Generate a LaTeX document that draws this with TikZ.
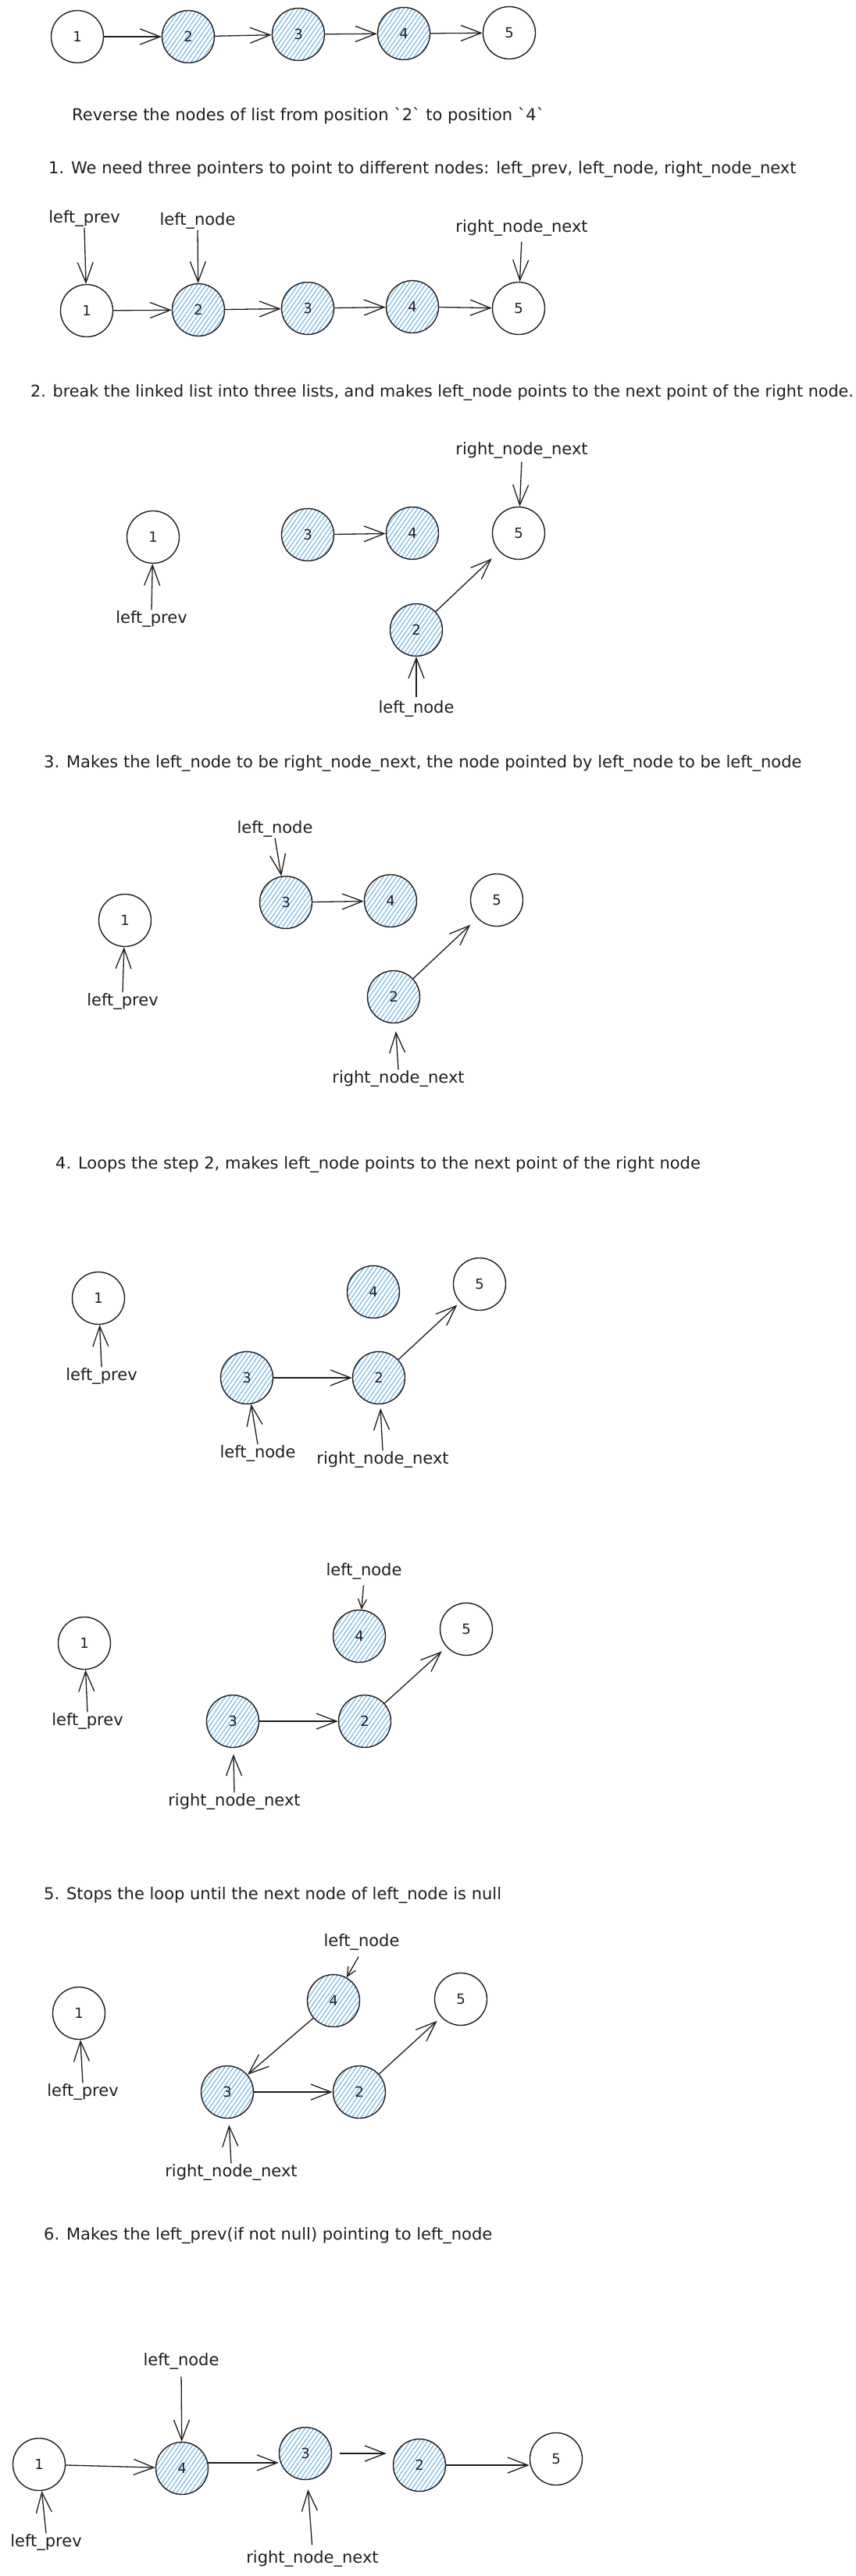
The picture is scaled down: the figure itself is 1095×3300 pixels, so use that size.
\documentclass[tikz,border=0pt]{standalone}
\usepackage{fontspec}
\setmainfont{DejaVu Sans}
\usetikzlibrary{arrows.meta,patterns.meta}
\definecolor{hatch}{RGB}{110,180,240}
\definecolor{ink}{RGB}{30,30,30}
\begin{document}
\begin{tikzpicture}[x=1pt,y=-1pt,
  lst/.style={circle, draw=ink, line width=1.4pt, minimum size=67pt, inner sep=0pt, font=\fontsize{18}{20}\selectfont, text=ink},
  blu/.style={lst, pattern={Lines[angle=55,distance=4.6pt,line width=1.1pt]}, pattern color=hatch},
  wht/.style={lst, fill=white},
  lbl/.style={font=\fontsize{21}{25}\selectfont, inner sep=1pt, text=ink},
  captxt/.style={font=\fontsize{21}{25}\selectfont, anchor=west, inner sep=0pt, text=ink},
  arr/.style={draw=ink, line width=1.3pt, -{Straight Barb[length=26pt,width=20pt]}},
  sarr/.style={draw=ink, line width=1.3pt, -{Straight Barb[length=12pt,width=11pt]}},
]
\fill[white] (0,0) rectangle (1095,3300);
\useasboundingbox (0,0) rectangle (1095,3300);

% ---- initial list
\node[wht] (n01) at (99,47) {1};
\node[blu] (n02) at (241,47) {2};
\node[blu] (n03) at (382,44) {3};
\node[blu] (n04) at (517,43) {4};
\node[wht] (n05) at (652,42) {5};
\draw[arr] (n01) -- (n02);
\draw[arr] (n02) -- (n03);
\draw[arr] (n03) -- (n04);
\draw[arr] (n04) -- (n05);

\node[captxt] (t0) at (92,148) {Reverse the nodes of list from position \textasciigrave2\textasciigrave\ to position \textasciigrave4\textasciigrave};

% ---- step 1
\node[captxt] (t1) at (62,217) {1. We need three pointers to point to different nodes: left\_prev, left\_node, right\_node\_next};
\node[lbl] (lp1) at (108,280) {left\_prev};
\node[lbl] (ln1) at (253,283) {left\_node};
\node[lbl] (rn1) at (668,292) {right\_node\_next};
\node[wht] (a1) at (111,398) {1};
\node[blu] (a2) at (254,397) {2};
\node[blu] (a3) at (394,395) {3};
\node[blu] (a4) at (528,393) {4};
\node[wht] (a5) at (664,395) {5};
\draw[arr] (lp1.south) -- (a1);
\draw[arr] (ln1.south) -- (a2);
\draw[arr, shorten <=6pt] (rn1.south) -- (a5);
\draw[arr] (a1) -- (a2);
\draw[arr] (a2) -- (a3);
\draw[arr] (a3) -- (a4);
\draw[arr] (a4) -- (a5);

% ---- step 2
\node[captxt, font=\fontsize{20.7}{25}\selectfont] (t2) at (39,503) {2. break the linked list into three lists, and makes left\_node points to the next point of the right node.};
\node[lbl] (rn2) at (668,577) {right\_node\_next};
\node[wht] (b1) at (196,688) {1};
\node[blu] (b3) at (394,685) {3};
\node[blu] (b4) at (528,683) {4};
\node[wht] (b5) at (664,683) {5};
\node[blu] (b2) at (533,807) {2};
\node[lbl] (lp2) at (194,793) {left\_prev};
\node[lbl] (ln2) at (533,908) {left\_node};
\draw[arr, shorten <=3pt] (rn2.south) -- (b5);
\draw[arr] (lp2.north) -- (b1);
\draw[arr, shorten <=3pt] (ln2.north) -- (b2);
\draw[arr] (b3) -- (b4);
\draw[arr, shorten >=13pt] (b2) -- (b5);

% ---- step 3
\node[captxt] (t3) at (56,978) {3. Makes the left\_node to be right\_node\_next, the node pointed by left\_node to be left\_node};
\node[lbl] (ln3) at (352,1062) {left\_node};
\node[wht] (c1) at (160,1179) {1};
\node[blu] (c3) at (366,1156) {3};
\node[blu] (c4) at (500,1154) {4};
\node[wht] (c5) at (636,1153) {5};
\node[blu] (c2) at (504,1277) {2};
\node[lbl] (lp3) at (157,1283) {left\_prev};
\node[lbl] (rn3) at (510,1382) {right\_node\_next};
\draw[arr] (ln3.south) -- (c3);
\draw[arr] (lp3.north) -- (c1);
\draw[arr, shorten >=10pt] (rn3.north) -- (c2);
\draw[arr] (c3) -- (c4);
\draw[arr, shorten >=12pt] (c2) -- (c5);

% ---- step 4
\node[captxt] (t4) at (71,1492) {4. Loops the step 2, makes left\_node points to the next point of the right node};
\node[wht] (d1) at (126,1663) {1};
\node[blu] (d4) at (478,1655) {4};
\node[wht] (d5) at (614,1645) {5};
\node[blu] (d3) at (316,1765) {3};
\node[blu] (d2) at (485,1765) {2};
\node[lbl] (lp4) at (130,1763) {left\_prev};
\node[lbl] (ln4) at (330,1862) {left\_node};
\node[lbl] (rn4) at (490,1870) {right\_node\_next};
\draw[arr] (lp4.north) -- (d1);
\draw[arr] (ln4.north) -- (d3);
\draw[arr, shorten >=5pt] (rn4.north) -- (d2);
\draw[arr] (d3) -- (d2);
\draw[arr, shorten >=5pt] (d2) -- (d5);

% ---- step 4 (again)
\node[lbl] (ln5) at (466,2013) {left\_node};
\node[blu] (e4) at (460,2096) {4};
\node[wht] (e5) at (597,2087) {5};
\node[wht] (e1) at (108,2105) {1};
\node[blu] (e3) at (298,2205) {3};
\node[blu] (e2) at (467,2205) {2};
\node[lbl] (lp5) at (112,2205) {left\_prev};
\node[lbl] (rn5) at (300,2308) {right\_node\_next};
\draw[sarr, shorten <=6pt] (ln5.south) -- (e4);
\draw[arr] (lp5.north) -- (e1);
\draw[arr, shorten >=8pt] (rn5.north) -- (e3);
\draw[arr] (e3) -- (e2);
\draw[arr, shorten >=8pt] (e2) -- (e5);

% ---- step 5
\node[captxt] (t5) at (56,2428) {5. Stops the loop until the next node of left\_node is null};
\node[lbl] (ln6) at (463,2488) {left\_node};
\node[blu] (f4) at (427,2563) {4};
\node[wht] (f5) at (590,2561) {5};
\node[wht] (f1) at (101,2579) {1};
\node[blu] (f3) at (291,2680) {3};
\node[blu] (f2) at (460,2680) {2};
\node[lbl] (lp6) at (106,2680) {left\_prev};
\node[lbl] (rn6) at (296,2783) {right\_node\_next};
\draw[sarr, shorten <=8pt] (ln6.south) -- (f4);
\draw[arr] (lp6.north) -- (f1);
\draw[arr, shorten >=8pt] (rn6.north) -- (f3);
\draw[arr] (f4) -- (f3);
\draw[arr] (f3) -- (f2);
\draw[arr, shorten >=7pt] (f2) -- (f5);

% ---- step 6
\node[captxt] (t6) at (56,2864) {6. Makes the left\_prev(if not null) pointing to left\_node};
\node[lbl] (ln7) at (232,3025) {left\_node};
\node[wht] (g1) at (50,3157) {1};
\node[blu] (g4) at (233,3162) {4};
\node[blu] (g3) at (391,3143) {3};
\node[blu] (g2) at (537,3158) {2};
\node[wht] (g5) at (712,3150) {5};
\node[lbl] (lp7) at (59,3257) {left\_prev};
\node[lbl] (rn7) at (400,3278) {right\_node\_next};
\draw[arr, shorten <=8pt] (ln7.south) -- (g4);
\draw[arr] (lp7.north) -- (g1);
\draw[arr, shorten <=6pt, shorten >=12pt] (rn7.north) -- (g3);
\draw[arr] (g1) -- (g4);
\draw[arr] (g4.12) -- (g4.12 -| g3.west);
\draw[arr, shorten <=10pt, shorten >=8pt] (g3.east) -- (g3.east -| g2.west);
\draw[arr] (g2.east) -- (g2.east -| g5.west);
\end{tikzpicture}
\end{document}
